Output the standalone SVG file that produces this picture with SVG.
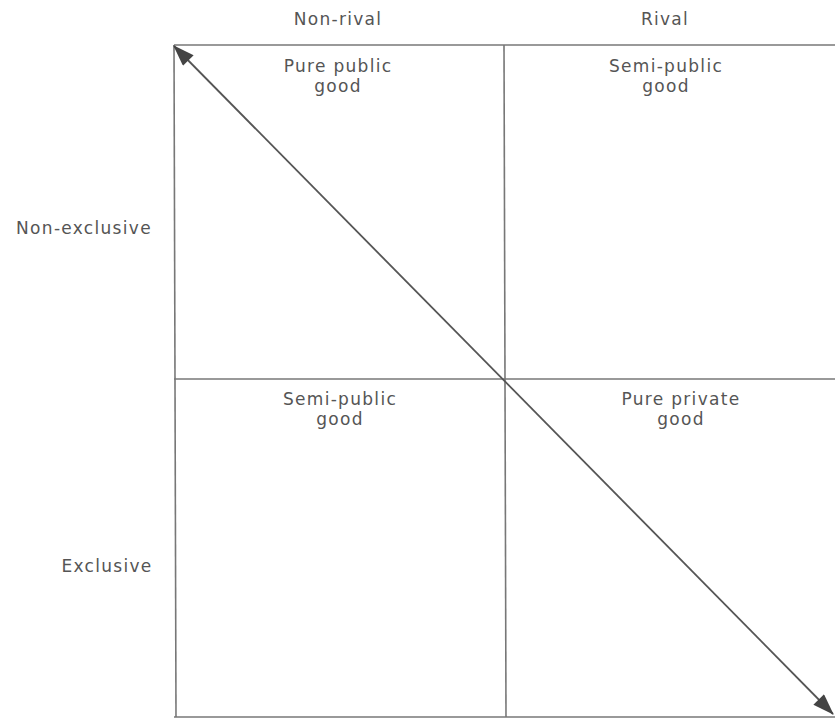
<svg xmlns="http://www.w3.org/2000/svg" width="835" height="719" viewBox="0 0 835 719">
<style>
.t{font-family:"DejaVu Sans","Liberation Sans",sans-serif;font-size:17px;fill:#555;text-anchor:middle;letter-spacing:1.3px}
.g{stroke:#777;stroke-width:1.6;fill:none}
</style>
<defs>
<marker id="ah2" viewBox="0 0 20 14" refX="19" refY="7" markerWidth="22" markerHeight="15" markerUnits="userSpaceOnUse" orient="auto-start-reverse">
<path d="M0,0 L20,7 L0,14 z" fill="#444"/>
</marker>
</defs>
<rect width="835" height="719" fill="#fff"/>
<g id="grid">
<line class="g" x1="174" y1="45" x2="835" y2="45"/>
<line class="g" x1="174" y1="379" x2="835" y2="379"/>
<line class="g" x1="174" y1="717" x2="835" y2="717"/>
<line class="g" x1="174" y1="45" x2="176" y2="717"/>
<line class="g" x1="504" y1="45" x2="506" y2="717"/>
</g>
<g id="connectors">
<line x1="174" y1="46" x2="833" y2="714" stroke="#555" stroke-width="1.8" marker-start="url(#ah2)" marker-end="url(#ah2)"/>
</g>
<g id="col-nonrival"><text class="t" x="338" y="25">Non-rival</text></g>
<g id="col-rival"><text class="t" x="665" y="25">Rival</text></g>
<g id="row-nonexclusive"><text class="t" x="84" y="234">Non-exclusive</text></g>
<g id="row-exclusive"><text class="t" x="107" y="572">Exclusive</text></g>
<g id="pure-public"><text class="t" x="338" y="72">Pure public</text><text class="t" x="338" y="92">good</text></g>
<g id="semi-public-1"><text class="t" x="666" y="72">Semi-public</text><text class="t" x="666" y="92">good</text></g>
<g id="semi-public-2"><text class="t" x="340" y="405">Semi-public</text><text class="t" x="340" y="425">good</text></g>
<g id="pure-private"><text class="t" x="681" y="405">Pure private</text><text class="t" x="681" y="425">good</text></g>
</svg>
